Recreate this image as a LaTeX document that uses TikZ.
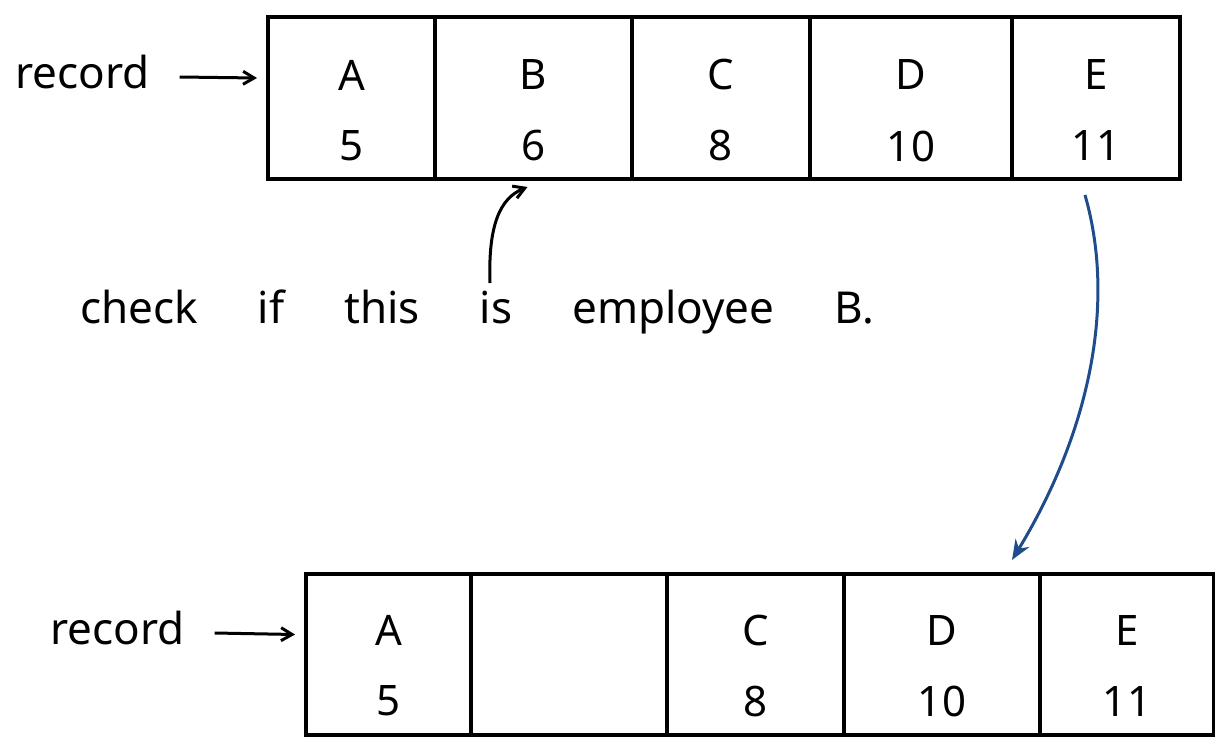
\documentclass[tikz,border=0pt]{standalone}
\usepackage{fontspec}
\setmainfont{Noto Sans}
\usetikzlibrary{arrows.meta,calc}
\begin{document}
\begin{tikzpicture}[x=1pt,y=-1pt,
  cell/.style={draw=black,line width=4pt,rectangle,inner sep=0pt,anchor=north west},
  celltext/.style={font=\fontsize{42}{44}\selectfont,inner sep=0pt},
  lbl/.style={font=\fontsize{44}{46}\selectfont,inner sep=0pt},
  ptr/.style={line width=3pt,-{Straight Barb[length=11pt,width=13pt,line width=3pt]}},
  blueptr/.style={draw=arrowblue,line width=3pt,-{Stealth[length=20pt,width=16pt]}}
]
\definecolor{arrowblue}{HTML}{1F4C8A}
\useasboundingbox (0,0) rectangle (1215,736);
% top row
\node[cell,minimum width=167pt,minimum height=162pt] (t1) at (266,15) {};
\node[cell,minimum width=197pt,minimum height=162pt] (t2) at (433,15) {};
\node[cell,minimum width=178pt,minimum height=162pt] (t3) at (630,15) {};
\node[cell,minimum width=202pt,minimum height=162pt] (t4) at (808,15) {};
\node[cell,minimum width=168pt,minimum height=162pt] (t5) at (1010,15) {};
\foreach \c/\l/\n in {t1/A/5,t2/B/6,t3/C/8,t4/D/10,t5/E/11}{
  \node[celltext] (\c l) at ($(\c.north)+(0,60)$) {\l};
  \node[celltext] (\c n) at ($(\c.north)+(0,131)$) {\n};
}
\node[lbl,anchor=west] (rec1) at (15,72) {record};
\draw[ptr] ($(rec1.east)+(30,5)$) coordinate (rs1) -- ($(t1.west)+(-9,-20)$);
% bottom row
\node[cell,minimum width=165pt,minimum height=161pt] (b1) at (304,572) {};
\node[cell,minimum width=196pt,minimum height=161pt] (b2) at (469,572) {};
\node[cell,minimum width=177pt,minimum height=161pt] (b3) at (665,572) {};
\node[cell,minimum width=196pt,minimum height=161pt] (b4) at (842,572) {};
\node[cell,minimum width=174pt,minimum height=161pt] (b5) at (1038,572) {};
\foreach \c/\l/\n in {b1/A/5,b3/C/8,b4/D/10,b5/E/11}{
  \node[celltext] (\c l) at ($(\c.north)+(0,58)$) {\l};
  \node[celltext] (\c n) at ($(\c.north)+(0,129)$) {\n};
}
\node[lbl,anchor=west] (rec2) at (50,628) {record};
\draw[ptr] ($(rec2.east)+(30,5)$) coordinate (rs2) -- ($(b1.west)+(-9,-20)$);
% note
\node[lbl,anchor=west] (note) at (80,312) {\spaceskip=60pt check if this is employee B.};
\coordinate (ns) at (490,283);
\draw[ptr] (ns) .. controls (488,225) and (500,198) .. ($(t2.south)+(-6,6)$);
% blue arrow
\coordinate (bs) at (1085,195);
\draw[blueptr] (bs) .. controls (1118,310) and (1085,440) .. ($(b5.north west)+(-26,-12)$);
\end{tikzpicture}
\end{document}
